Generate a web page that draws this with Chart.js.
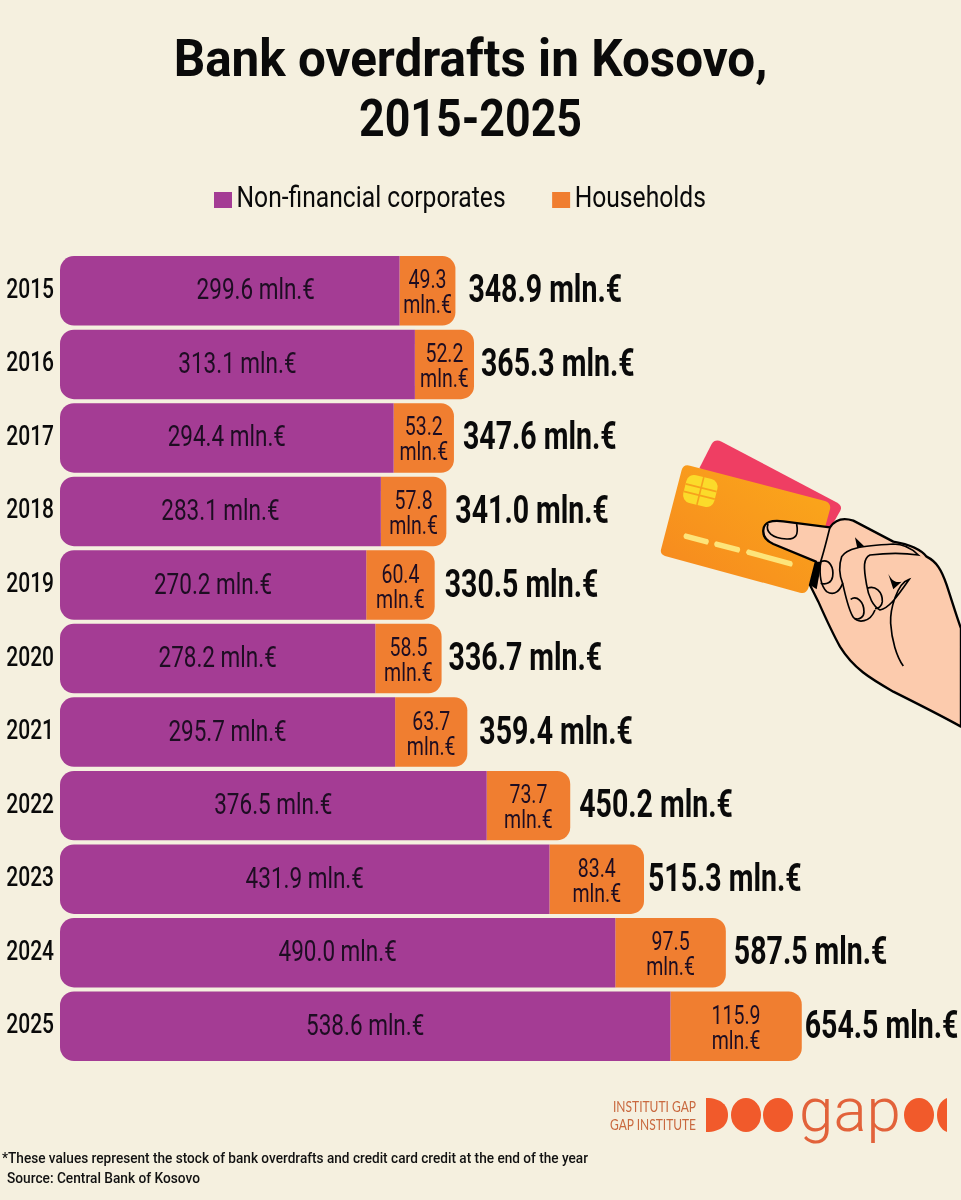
<!DOCTYPE html>
<html>
<head>
<meta charset="utf-8">
<title>Bank overdrafts in Kosovo, 2015-2025</title>
<script src="https://cdn.jsdelivr.net/npm/chart.js@4/dist/chart.umd.min.js"></script>
<style>
html,body{margin:0;padding:0;background:#f5f0df;}
#wrap{position:relative;width:961px;height:1200px;overflow:hidden;}
#grafico{position:absolute;left:0;top:0;}
#extras{position:absolute;left:0;top:0;pointer-events:none;}
</style>
</head>
<body>
<div id="wrap">
<canvas id="grafico" width="961" height="1200" style="width:961px;height:1200px"></canvas>
<svg id="extras" width="961" height="1200" viewBox="0 0 961 1200">
  <defs>
    <linearGradient id="cardNaranja" x1="0" y1="1" x2="1" y2="0">
      <stop offset="0" stop-color="#f6871f"/>
      <stop offset="1" stop-color="#fbaa1a"/>
    </linearGradient>
  </defs>
  <!-- tarjetas y mano, coordenadas del recorte x3 -->
  <g transform="translate(640,420) scale(0.3333)">
    <path d="M215,72 Q225,56 245,65 L592,248 Q608,258 601,272 L565,335 L178,145 Z" fill="#ef3e63"/>
    <path d="M125,150 Q130,132 150,137 L555,243 Q574,250 570,268 L505,505 Q498,523 480,518 L75,408 Q58,402 64,385 Z" fill="url(#cardNaranja)"/>
    <g transform="rotate(14 181 213)">
      <rect x="133" y="170" width="96" height="86" rx="24" fill="#fbdb2a"/>
      <path d="M181,170 L181,256 M133,203 L229,203 M133,226 L229,226" stroke="#f7a21c" stroke-width="5"/>
    </g>
    <path d="M136,340 L204,358 Q210,365 202,374 L134,356 Q126,348 136,340 Z" fill="#fde47a"/>
    <path d="M228,364 L298,382 Q304,390 296,398 L226,380 Q218,372 228,364 Z" fill="#fde47a"/>
    <path d="M324,388 L455,424 Q462,432 454,440 L322,404 Q314,396 324,388 Z" fill="#fde47a"/>
    <path d="M370,330 C372,305 395,300 430,304 L570,322 C585,300 610,292 640,302 L760,365 C800,372 840,385 860,410 C890,425 905,450 920,495 C935,540 950,590 963,625 L963,920 C900,885 830,850 760,815 C690,775 640,745 600,680 C575,635 555,590 535,545 L510,495 L528,425 L400,372 C378,362 368,350 370,330 Z" fill="#fccbad" stroke="#000" stroke-width="7" stroke-linejoin="round"/>
    <path d="M528,425 L510,495 L530,508 L545,425 Z" fill="#000"/>
    <path d="M384,312 C376,335 395,355 440,357 C468,358 476,345 470,312" fill="none" stroke="#000" stroke-width="5"/>
    <path d="M570,322 C560,360 552,395 542,425 C538,460 540,495 560,515 C585,530 600,510 608,490 C600,470 595,440 605,410 C620,385 660,378 760,372 C790,372 815,385 835,405 C790,398 730,400 690,405 C670,415 670,440 680,495 C685,530 700,560 720,570 C745,565 765,540 808,478 C770,490 750,570 752,610 C755,660 770,710 790,738" fill="none" stroke="#000" stroke-width="5"/>
    <path d="M542,425 C570,415 582,445 578,470 C575,488 560,495 542,490" fill="none" stroke="#000" stroke-width="5"/>
    <path d="M608,490 C615,520 625,570 640,592 C655,610 690,608 705,570" fill="none" stroke="#000" stroke-width="5"/>
    <path d="M632,538 C650,525 672,545 672,575 C672,590 660,600 645,596" fill="none" stroke="#000" stroke-width="5"/>
    <path d="M682,505 C705,495 728,515 727,545 C726,558 715,566 705,566" fill="none" stroke="#000" stroke-width="5"/>
    <path d="M645,352 L652,385 L672,378 Z M745,462 L760,508 L785,485 C765,490 755,480 745,462 Z" fill="#000"/>
  </g>
  <!-- logo -->
  <text x="613" y="1112" font-family="Lato" font-size="15" textLength="83" lengthAdjust="spacingAndGlyphs" fill="#c9693f">INSTITUTI GAP</text>
  <text x="610" y="1130" font-family="Lato" font-size="15" textLength="86" lengthAdjust="spacingAndGlyphs" fill="#c9693f">GAP INSTITUTE</text>
  <path d="M706,1098 C722,1098 728,1106 728,1115 C728,1124 722,1132 706,1132 Z" fill="#f15a2b"/>
  <ellipse cx="746" cy="1115" rx="15" ry="17" fill="#f15a2b"/>
  <ellipse cx="778" cy="1115" rx="15" ry="17" fill="#f15a2b"/>
  <text x="799" y="1131" font-family="Roboto" font-weight="300" font-size="62" textLength="102" lengthAdjust="spacingAndGlyphs" fill="#e2623a">gap</text>
  <ellipse cx="919" cy="1115" rx="15" ry="17" fill="#f15a2b"/>
  <path d="M947,1098 C941,1100 937,1107 937,1115 C937,1123 941,1130 947,1132 Z" fill="#f15a2b"/>
  <!-- notas -->
  <text x="2" y="1163" font-family="Roboto" font-weight="500" font-size="15" textLength="586" lengthAdjust="spacingAndGlyphs" fill="#111">*These values represent the stock of bank overdrafts and credit card credit at the end of the year</text>
  <text x="7" y="1183" font-family="Roboto" font-weight="500" font-size="15" textLength="193" lengthAdjust="spacingAndGlyphs" fill="#111">Source: Central Bank of Kosovo</text>
</svg>
</div>
<script>
/** Datos */
const anios = ["2015","2016","2017","2018","2019","2020","2021","2022","2023","2024","2025"];
const corporates = [299.6,313.1,294.4,283.1,270.2,278.2,295.7,376.5,431.9,490.0,538.6];
const households = [49.3,52.2,53.2,57.8,60.4,58.5,63.7,73.7,83.4,97.5,115.9];
const totales = [348.9,365.3,347.6,341.0,330.5,336.7,359.4,450.2,515.3,587.5,654.5];
const nombreCorporates = "Non-financial corporates";
const nombreHouseholds = "Households";
const titulo = ["Bank overdrafts in Kosovo,", "2015-2025"];

const fuente = "Roboto,sans-serif";
const colorTexto = "#1d0d22";
// distancia del total a la barra, cambia de un anio a otro en la imagen
const separacion = [13,7,9,9,10,7,12,9,4,8,3];

const canvas = document.getElementById("grafico");
const ctx2d = canvas.getContext("2d");

/** No hay fuente angosta instalada: se angosta todo el texto del canvas */
function factorAncho(texto) {
    if (texto === titulo[1]) return 0.86;
    if (ctx2d.font.includes("52px")) return 0.95;
    if (ctx2d.font.includes("29px")) return 0.85;
    return 0.75;
}
const fillTextOriginal = ctx2d.fillText.bind(ctx2d);
const measureTextOriginal = ctx2d.measureText.bind(ctx2d);
ctx2d.fillText = function (texto, x, y) {
    // la leyenda pone el texto muy lejos del cuadrito
    const corrido = (texto === nombreCorporates || texto === nombreHouseholds) ? -10 : 0;
    ctx2d.save();
    ctx2d.translate(x + corrido, y);
    ctx2d.scale(factorAncho(texto), 1);
    fillTextOriginal(texto, 0, 0);
    ctx2d.restore();
};
ctx2d.measureText = function (texto) {
    return {width: measureTextOriginal(texto).width * factorAncho(texto)};
};

// acomoda titulo y leyenda donde estan en la imagen
const ubicarCajas = {
    id: "ubicarCajas",
    beforeDraw(chart) {
        chart.titleBlock.top = 22;
        chart.titleBlock.left = -20;
        chart.legend.left = 177.5;
        chart.legend.top = 149;
    }
};

// etiquetas de cada barra y total a la derecha
const etiquetas = {
    id: "etiquetas",
    afterDatasetsDraw(chart) {
        const ctx = chart.ctx;
        const barrasA = chart.getDatasetMeta(0).data;
        const barrasB = chart.getDatasetMeta(1).data;
        ctx.save();
        ctx.textBaseline = "middle";
        anios.forEach((anio, i) => {
            const a = barrasA[i];
            const b = barrasB[i];
            ctx.fillStyle = colorTexto;
            ctx.textAlign = "center";
            ctx.font = "30px " + fuente;
            // en 2015 la etiqueta no esta centrada
            const corrimiento = anio === "2015" ? 26 : 0;
            ctx.fillText(corporates[i].toFixed(1) + " mln.€", (a.base + a.x) / 2 + corrimiento, a.y + 1);
            ctx.font = "26px " + fuente;
            const centro = (b.base + b.x) / 2;
            ctx.fillText(households[i].toFixed(1), centro, b.y - 9);
            ctx.fillText("mln.€", centro, b.y + 16);
            ctx.fillStyle = "#0a0a0a";
            ctx.textAlign = "left";
            ctx.font = "bold 38px " + fuente;
            ctx.fillText(totales[i].toFixed(1) + " mln.€", b.x + separacion[i], b.y + 2);
        });
        ctx.restore();
    }
};

new Chart(canvas, {
    type: "bar",
    data: {
        labels: anios,
        datasets: [{
            label: nombreCorporates,
            data: corporates,
            backgroundColor: "#a43c94",
            borderSkipped: false,
            borderRadius: {topLeft: 14, bottomLeft: 14, topRight: 0, bottomRight: 0}
        }, {
            label: nombreHouseholds,
            data: households,
            backgroundColor: "#f07e30",
            borderSkipped: false,
            borderRadius: {topLeft: 0, bottomLeft: 0, topRight: 13, bottomRight: 13}
        }]
    },
    options: {
        indexAxis: "y",
        responsive: false,
        animation: false,
        devicePixelRatio: 1,
        datasets: {bar: {categoryPercentage: 1, barPercentage: 0.945}},
        layout: {padding: {top: 48, right: 0, bottom: 137, left: 0}},
        scales: {
            x: {stacked: true, display: false, min: 0, max: 795},
            y: {
                stacked: true,
                grid: {display: false, tickLength: 0},
                border: {display: false},
                afterFit(scale) { scale.width = 60; },
                ticks: {color: "#0a0a0a", padding: 6, font: {family: fuente, size: 28, weight: "500"}}
            }
        },
        plugins: {
            tooltip: {enabled: false},
            title: {
                display: true,
                text: titulo,
                color: "#0a0a0a",
                font: {family: fuente, size: 52, weight: "bold", lineHeight: 1.15},
                padding: {top: 11, bottom: 0}
            },
            legend: {
                display: true,
                position: "top",
                align: "start",
                labels: {
                    color: "#0a0a0a",
                    boxWidth: 18,
                    boxHeight: 16,
                    padding: 36.5,
                    font: {family: fuente, size: 29}
                }
            }
        }
    },
    plugins: [ubicarCajas, etiquetas]
});
</script>
</body>
</html>
